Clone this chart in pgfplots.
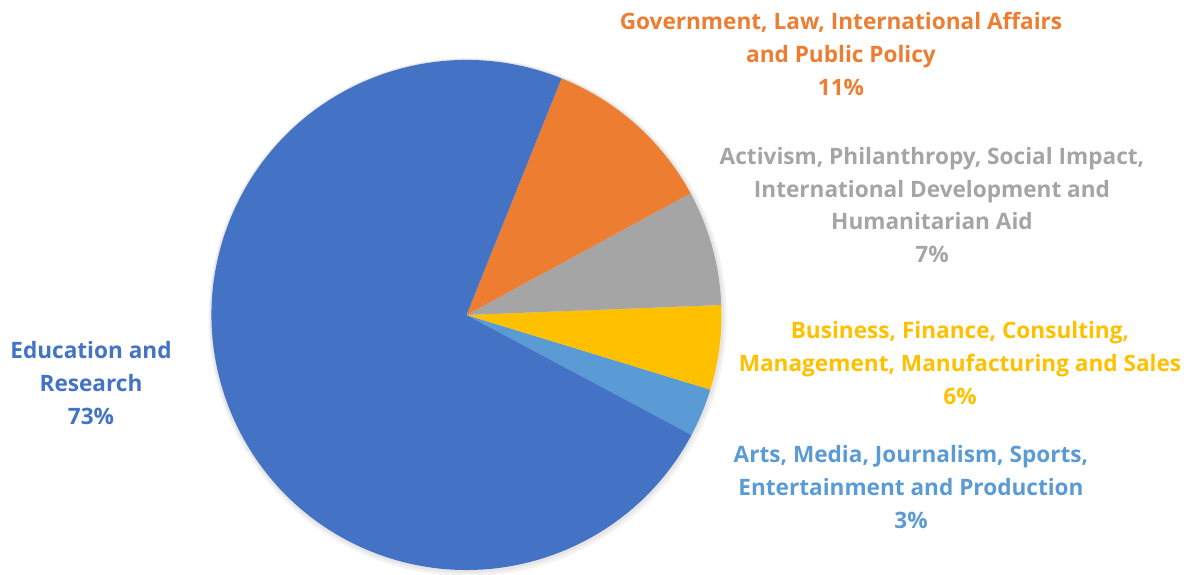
\documentclass[border=0pt]{standalone}
\usepackage{pgfplots}
\pgfplotsset{compat=1.18}
\usepackage{fontspec}
\setmainfont{Open Sans}
\definecolor{cEdu}{HTML}{4472C4}
\definecolor{cGov}{HTML}{ED7D31}
\definecolor{cAct}{HTML}{A5A5A5}
\definecolor{cBus}{HTML}{FFC000}
\definecolor{cArts}{HTML}{5B9BD5}
\begin{document}
\begin{tikzpicture}
\begin{axis}[
    hide axis,
    x=1pt, y=1pt,
    xmin=0, xmax=1195, ymin=0, ymax=575,
    clip=false,
]
\coordinate (LL) at (axis cs:0,0);
\coordinate (UR) at (axis cs:1195,575);
% soft shadow
\fill[black, opacity=0.05] (axis cs:467.5,258) circle[radius=259pt];
\fill[black, opacity=0.05] (axis cs:467,259) circle[radius=257pt];
% slices (percent), counterclockwise from the Arts slice
\xdef\start{-28.07}
\foreach \v/\c in {3.07/cArts,5.35/cBus,7.3/cAct,11.0/cGov,73.28/cEdu}{
  \pgfmathsetmacro\stop{\start+3.6*\v}
  \edef\temp{\noexpand\fill[\c] (axis cs:466.5,260) -- ++(\start:255pt)
    arc[start angle=\start, end angle=\stop, radius=255pt] -- cycle;}
  \temp
  \xdef\start{\stop}
}
% labels
\tikzset{lbl/.style={align=center, font=\bfseries\fontsize{22.6}{32.8}\selectfont}}
\node[lbl, text=cGov] at (axis cs:841,521) {Government, Law, International Affairs\\and Public Policy\\11\%};
\node[lbl, text=cAct] at (axis cs:932,370) {Activism, Philanthropy, Social Impact,\\International Development and\\Humanitarian Aid\\7\%};
\node[lbl, text=cBus] at (axis cs:960,212) {Business, Finance, Consulting,\\Management, Manufacturing and Sales\\6\%};
\node[lbl, text=cArts] at (axis cs:911,88) {Arts, Media, Journalism, Sports,\\Entertainment and Production\\3\%};
\node[lbl, text=cEdu] at (axis cs:91,192) {Education and\\Research\\73\%};
\end{axis}
\pgfresetboundingbox
\path[use as bounding box] (LL) rectangle (UR);
\end{tikzpicture}
\end{document}
